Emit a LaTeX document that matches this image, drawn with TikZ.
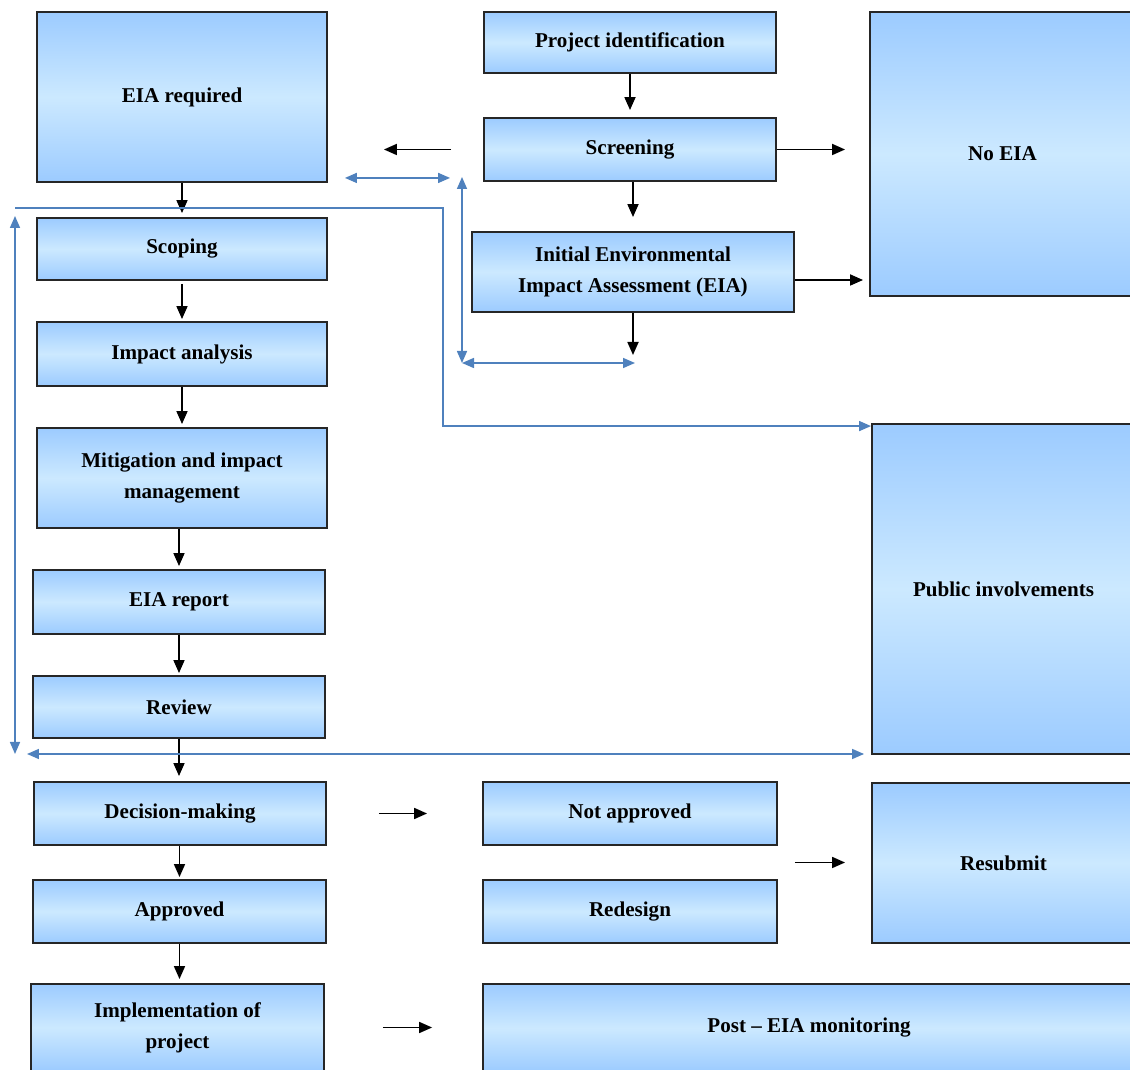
\documentclass[tikz,border=0pt]{standalone}
\usepackage{fontspec}
\setmainfont{Liberation Serif}
\usetikzlibrary{arrows.meta,calc}
\definecolor{boxedge}{HTML}{9CCBFF}
\definecolor{boxmid}{HTML}{CCE9FF}
\definecolor{linkblue}{HTML}{4F81BD}

\begin{document}
\begin{tikzpicture}[x=0.02cm, y=-0.02cm,
        eiabox/.style={draw=black!85, line width=1.1pt, top color=boxedge, bottom color=boxedge, middle color=boxmid,
            align=center, inner sep=0pt, font=\bfseries\fontsize{12}{17.5}\selectfont},
        blk/.style={line width=1pt, -{Triangle[length=0.26cm,width=0.22cm]}},
        lnk/.style={draw=linkblue, line width=0.9pt, -{Triangle[length=0.24cm,width=0.2cm]}},
        lnkboth/.style={lnk, {Triangle[length=0.24cm,width=0.2cm]}-{Triangle[length=0.24cm,width=0.2cm]}}]
        \useasboundingbox (0,0) rectangle (1130,1070);

        % left column
        \node[eiabox, minimum width=5.8cm, minimum height=3.4cm] (req) at (182,97) {EIA required};
        \node[eiabox, minimum width=5.8cm, minimum height=1.24cm] (scop) at (182,249) {Scoping};
        \node[eiabox, minimum width=5.8cm, minimum height=1.28cm] (impact) at (182,354) {Impact analysis};
        \node[eiabox, minimum width=5.8cm, minimum height=2cm] (mitig) at (182,478) {Mitigation and impact\\management};
        \node[eiabox, minimum width=5.84cm, minimum height=1.28cm] (report) at (179,602) {EIA report};
        \node[eiabox, minimum width=5.84cm, minimum height=1.24cm] (review) at (179,707) {Review};
        \node[eiabox, minimum width=5.84cm, minimum height=1.26cm] (decis) at (180,813.5) {Decision-making};
        \node[eiabox, minimum width=5.86cm, minimum height=1.26cm] (appr) at (179.5,911.5) {Approved};
        \node[eiabox, minimum width=5.86cm, minimum height=1.74cm] (impl) at (177.5,1027.5) {Implementation of\\project};

        % middle column
        \node[eiabox, minimum width=5.84cm, minimum height=1.22cm] (proj) at (630,42.5) {Project identification};
        \node[eiabox, minimum width=5.84cm, minimum height=1.26cm] (scr) at (630,149.5) {Screening};
        \node[eiabox, minimum width=6.44cm, minimum height=1.6cm] (iea) at (633,272) {Initial Environmental\\Impact Assessment (EIA)};
        \node[eiabox, minimum width=5.88cm, minimum height=1.26cm] (notap) at (630,813.5) {Not approved};
        \node[eiabox, minimum width=5.88cm, minimum height=1.26cm] (redes) at (630,911.5) {Redesign};
        \node[eiabox, minimum width=13.04cm, minimum height=1.76cm] (post) at (809,1028) {Post -- EIA monitoring};

        % right column
        \node[eiabox, minimum width=5.3cm, minimum height=5.68cm] (noeia) at (1002.5,154) {No EIA};
        \node[eiabox, minimum width=5.26cm, minimum height=6.6cm] (public) at (1003.5,589) {Public involvements};
        \node[eiabox, minimum width=5.26cm, minimum height=3.2cm] (resub) at (1003.5,863) {Resubmit};

        % free ends
        \coordinate (ieaout) at (633,355);
        \coordinate (iearight) at ($(iea.east)+(0,8)$);
        \coordinate (altmid) at ($(notap.east)!0.5!(redes.east)$);
        \coordinate (reqlink) at ($(req.south east)+(0,-5)$);
        \coordinate (loopTop) at (462,177);
        \coordinate (loopBot) at (462,363);
        \coordinate (loopEnd) at (635,363);
        \coordinate (fbStart) at (15,208);
        \coordinate (fbTurn) at (443,208);
        \coordinate (pubIn) at ($(public.north west)+(0,3)$);
        \coordinate (sideTop) at (15,216);
        \coordinate (sideBot) at (15,754);
        \coordinate (baseL) at (27,754);

        % black arrows down the left column
        \draw[blk, shorten >=0.08cm] (req.south) -- (scop.north);
        \draw[blk, shorten <=0.06cm, shorten >=0.04cm] (scop.south) -- (impact.north);
        \draw[blk, shorten >=0.06cm] (impact.south) -- (mitig.north);
        \draw[blk, shorten >=0.06cm] (mitig.south -| report.north) -- (report.north);
        \draw[blk, shorten >=0.04cm] (report.south) -- (review.north);
        \draw[blk, shorten >=0.1cm] (review.south) -- (review.south |- decis.north);
        \draw[blk, shorten >=0.04cm] (decis.south -| appr.north) -- (appr.north);
        \draw[blk, shorten >=0.08cm] (appr.south) -- (appr.south |- impl.north);

        % black arrows in the middle
        \draw[blk, shorten >=0.14cm] (proj.south) -- (scr.north);
        \draw[blk, shorten >=0.28cm] (scr.south -| iea.north) -- (iea.north);
        \draw[blk] (iea.south) -- (ieaout);
        \draw[blk, shorten <=0.64cm, shorten >=1.12cm] (scr.west) -- (scr.west -| req.east);
        \draw[blk, shorten >=0.48cm] (scr.east) -- (scr.east -| noeia.west);
        \draw[blk, shorten >=0.12cm] (iearight) -- (iearight -| noeia.west);
        \draw[blk, shorten <=1.04cm, shorten >=1.1cm] (decis.east) -- (notap.west);
        \draw[blk, shorten <=0.34cm, shorten >=0.52cm] (altmid) -- (altmid -| resub.west);
        \draw[blk, shorten <=1.16cm, shorten >=1cm] (impl.east) -- (impl.east -| post.west);

        % blue links
        \draw[lnkboth, shorten <=0.34cm, shorten >=0.66cm] (reqlink) -- (reqlink -| scr.west);
        \draw[lnkboth] (loopTop) -- (loopBot);
        \draw[lnkboth] (loopBot) -- (loopEnd);
        \draw[lnk] (fbStart) -- (fbTurn) |- (pubIn);
        \draw[lnkboth] (sideTop) -- (sideBot);
        \draw[lnkboth, shorten >=0.14cm] (baseL) -- (baseL -| public.south west);
    \end{tikzpicture}
\end{document}
